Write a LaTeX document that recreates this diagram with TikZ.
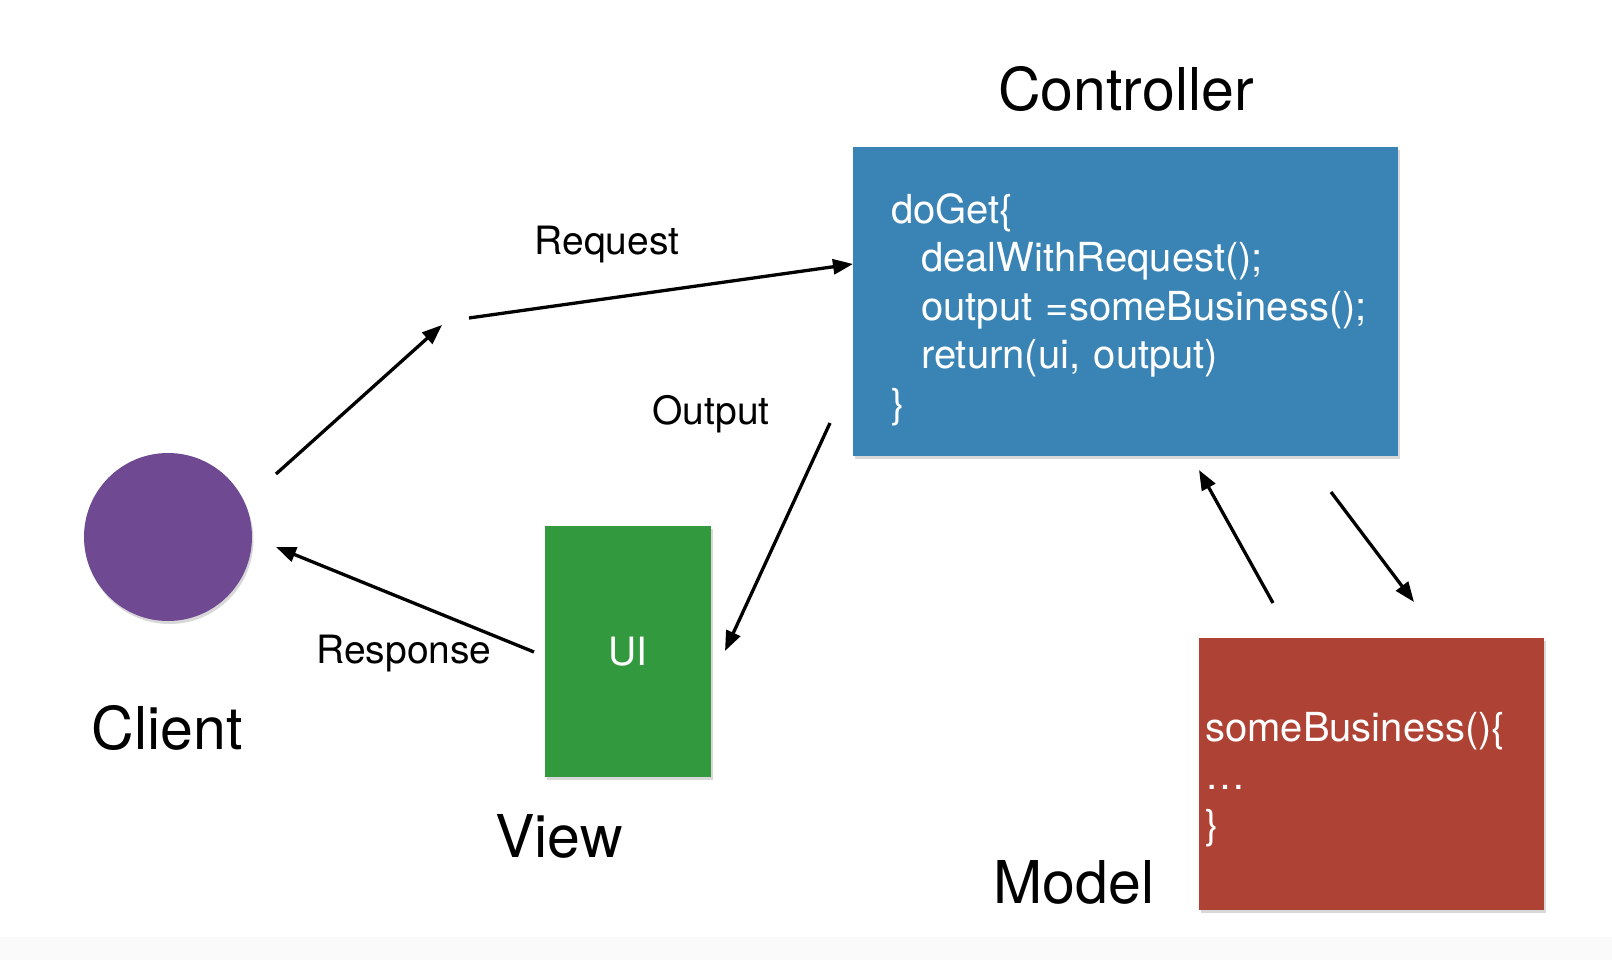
\documentclass[tikz,border=0pt]{standalone}
\usepackage{fontspec}
\setmainfont{TeX Gyre Heros}
\usetikzlibrary{arrows.meta,shadows}
\definecolor{ctrlblue}{HTML}{3A84B5}
\definecolor{clientpurple}{HTML}{6F4A93}
\definecolor{viewgreen}{HTML}{33993F}
\definecolor{modelred}{HTML}{AE4335}
\begin{document}
\begin{tikzpicture}[x=1pt,y=-1pt,
  title/.style={font=\fontsize{59}{70}\selectfont, inner sep=0pt},
  lbl/.style={font=\fontsize{39}{47}\selectfont, inner sep=0pt},
  codebox/.style={text=white, font=\fontsize{40}{48.5}\selectfont, align=left,
     inner ysep=0pt, anchor=north west,
     drop shadow={shadow xshift=1.5pt,shadow yshift=-3pt,opacity=0.3}},
  arr/.style={line width=3.3pt, -{Triangle[length=20pt,width=15pt]}}]
\useasboundingbox (0,0) rectangle (1612,960);
\fill[white] (0,0) rectangle (1612,960);
\fill[black!2] (0,937) rectangle (1612,960);

% Controller
\node[codebox, fill=ctrlblue, text width=469pt, inner xsep=38pt,
  minimum width=545pt, minimum height=309pt] (ctrl) at (853,147)
  {\mbox{\rule{0pt}{46pt}doGet\{}\\
   \mbox{\hspace*{30pt}dealWithRequest();}\\
   \mbox{\hspace*{30pt}output =someBusiness();}\\
   \mbox{\hspace*{30pt}return(ui, output)}\\
   \mbox{\}}};
\node[title] (ctrltitle) at (1126,89) {Controller};

% Client
\node[circle, fill=clientpurple, minimum size=168pt, inner sep=0pt,
  drop shadow={shadow xshift=1.5pt,shadow yshift=-3pt,opacity=0.3}] (client) at (168,537) {};
\node[title] (clienttitle) at (167,728) {Client};

% View
\node[fill=viewgreen, text=white, font=\fontsize{39}{46}\selectfont,
  minimum width=166pt, minimum height=251pt, inner sep=0pt,
  drop shadow={shadow xshift=1.5pt,shadow yshift=-3pt,opacity=0.3}] (view) at (628,651.5) {UI};
\node[title] (viewtitle) at (559,836) {View};

% Model
\node[codebox, fill=modelred, text width=333pt, inner xsep=6pt,
  minimum width=345pt, minimum height=272pt] (model) at (1199,638)
  {\mbox{\rule{0pt}{40pt}someBusiness()\{}\\
   \mbox{…}\\
   \mbox{\}}};
\node[title] (modeltitle) at (1074,882) {Model};

% labels
\node[lbl] (reqlbl) at (607,245) {Request};
\node[lbl] (outlbl) at (711,414) {Output};
\node[lbl] (resplbl) at (404,654) {Response};

% connector end points
\coordinate (c1a) at (276,474);
\coordinate (c1b) at (442,325);
\coordinate (c2a) at (469,318);
\coordinate (c2b) at (853,264);
\coordinate (c3a) at (830,423);
\coordinate (c3b) at (725,651);
\coordinate (c4a) at (534,652);
\coordinate (c4b) at (276,547);
\coordinate (c5a) at (1273,603);
\coordinate (c5b) at (1199,470);
\coordinate (c6a) at (1331,492);
\coordinate (c6b) at (1414,602);

\draw[arr] (c1a) -- (c1b);
\draw[arr] (c2a) -- (c2b);
\draw[arr] (c3a) -- (c3b);
\draw[arr] (c4a) -- (c4b);
\draw[arr] (c5a) -- (c5b);
\draw[arr] (c6a) -- (c6b);
\end{tikzpicture}
\end{document}
